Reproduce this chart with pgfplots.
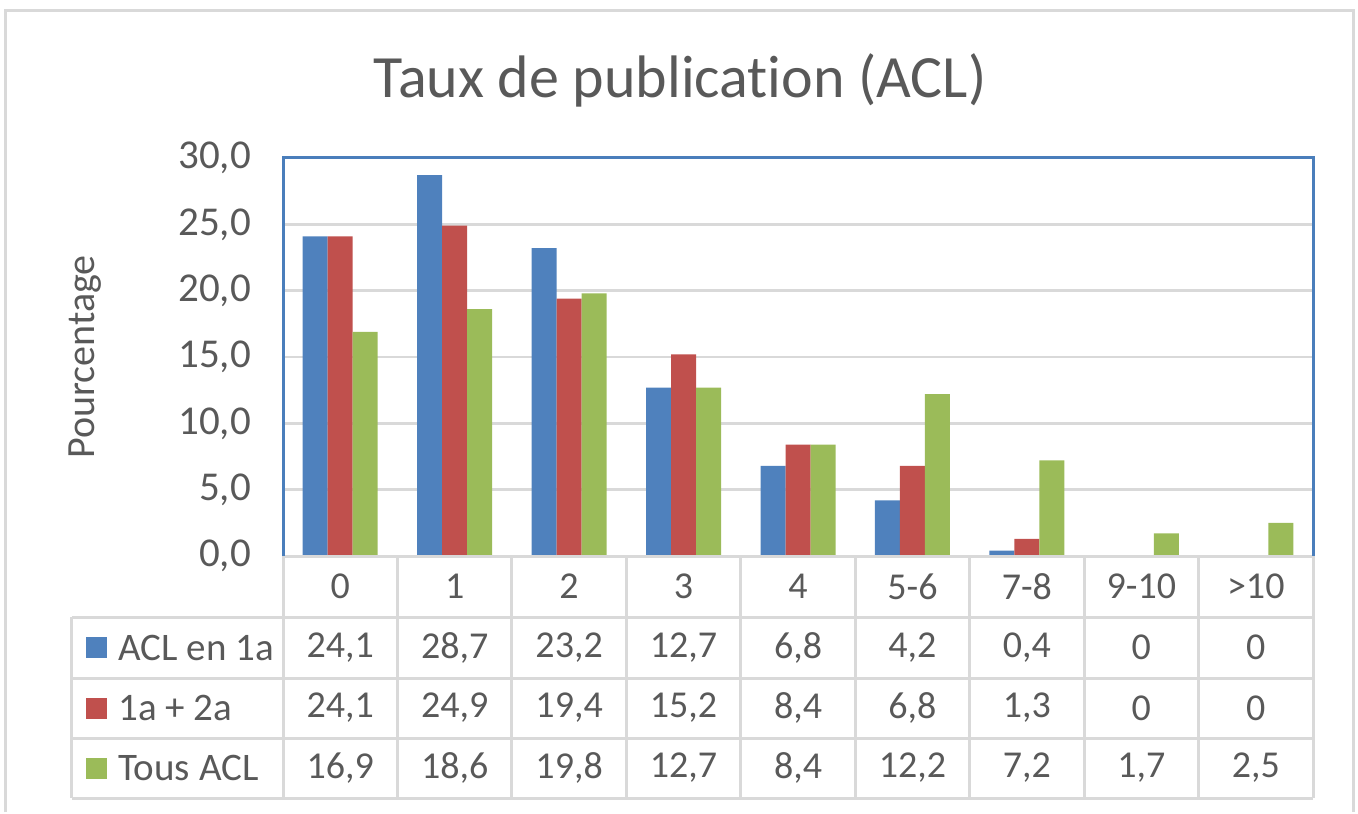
\documentclass[border=0pt]{standalone}
\usepackage{pgfplots}
\pgfplotsset{compat=1.18}
\usepackage{pgfplotstable}
\usepackage{fontspec}
\setmainfont{Carlito}[Ligatures={NoCommon}]
\definecolor{cblue}{HTML}{4F81BD}
\definecolor{cred}{HTML}{C0504D}
\definecolor{cgreen}{HTML}{9BBB59}
\definecolor{txt}{HTML}{595959}
\definecolor{gridc}{HTML}{D9D9D9}
\definecolor{axblue}{HTML}{4A7EBB}

\pgfplotstableread{
x a b c
0 24.1 24.1 16.9
1 28.7 24.9 18.6
2 23.2 19.4 19.8
3 12.7 15.2 12.7
4 6.8 8.4 8.4
5 4.2 6.8 12.2
6 0.4 1.3 7.2
7 0 0 1.7
8 0 0 2.5
}\data

\pgfplotsset{
  tablerow/.style={draw=none, mark=none, forget plot, point meta=explicit,
    nodes near coords={\pgfmathprintnumber[fixed,precision=1,use comma]{\pgfplotspointmeta}},
    nodes near coords align={center},
    every node near coord/.append style={anchor=center, text=txt, font=\fontsize{19}{23}\selectfont}},
}

\begin{document}
\begin{tikzpicture}
\begin{scope}[x=0.5pt,y=-0.5pt,shift={(-283,-556)}]
\path[use as bounding box] (0,0) rectangle (1358,809);
\end{scope}
\begin{axis}[
  scale only axis, width=515pt, height=199pt,
  xmin=-0.5, xmax=8.5, ymin=0, ymax=30,
  clip=false,
  axis line style={draw=none},
  major tick length=0pt,
  ytick={0,5,...,30},
  ymajorgrids, grid style={gridc, line width=1.25pt},
  xtick={0,...,8},
  xticklabels={0,1,2,3,4,5-6,7-8,9-10,>10},
  /pgf/number format/assume math mode=true,
  yticklabel style={text=txt, font=\fontsize{20.5}{24}\selectfont, anchor=east, xshift=-12.5pt,
     /pgf/number format/.cd, fixed, fixed zerofill, precision=1, use comma},
  xticklabel style={text=txt, font=\fontsize{19}{23}\selectfont, anchor=center, yshift=-15.25pt},
]
\addplot[ybar, bar width=12.5pt, bar shift=-12.5pt, fill=cblue, draw=none] table[x=x,y=a]{\data};
\addplot[ybar, bar width=12.5pt, bar shift=0pt, fill=cred, draw=none] table[x=x,y=b]{\data};
\addplot[ybar, bar width=12.5pt, bar shift=12.5pt, fill=cgreen, draw=none] table[x=x,y=c]{\data};
\addplot[tablerow] table[x=x, y expr=-6.897, meta=a]{\data};
\addplot[tablerow] table[x=x, y expr=-11.457, meta=b]{\data};
\addplot[tablerow] table[x=x, y expr=-15.98, meta=c]{\data};
\end{axis}
\begin{scope}[x=0.5pt,y=-0.5pt,shift={(-283,-556)}]
  \draw[gridc, line width=1.5pt] (6,812) -- (6,11) -- (1353,11) -- (1353,812);
  \node[text=txt, font=\fontsize{30}{36}\selectfont] at (680,80) {Taux de publication (ACL)};
  \node[text=txt, rotate=90, font=\fontsize{20}{24}\selectfont] at (85,357) {Pourcentage};
  \begin{scope}[gridc, line width=1.5pt]
    \draw (283,556) -- (1313,556);
    \foreach \y in {617,678,738,798} \draw (72,\y) -- (1313,\y);
    \foreach \i in {0,...,9} \draw ({283+\i*114.444},556) -- ({283+\i*114.444},798);
    \draw (72,617) -- (72,798);
  \end{scope}
  \fill[cblue] (86,637) rectangle (107,658);
  \fill[cred] (86,697.5) rectangle (107,718.5);
  \fill[cgreen] (86,757.5) rectangle (107,778.5);
  \node[anchor=west, inner sep=0pt, text=txt, font=\fontsize{19.5}{23}\selectfont] at (118,647.5) {ACL en 1a};
  \node[anchor=west, inner sep=0pt, text=txt, font=\fontsize{19.5}{23}\selectfont] at (118,708) {1a + 2a};
  \node[anchor=west, inner sep=0pt, text=txt, font=\fontsize{19.5}{23}\selectfont] at (118,768) {Tous ACL};
  \draw[axblue, line width=1.5pt] (283,556) -- (283,158) -- (1313,158) -- (1313,556);
\end{scope}
\end{tikzpicture}
\end{document}
